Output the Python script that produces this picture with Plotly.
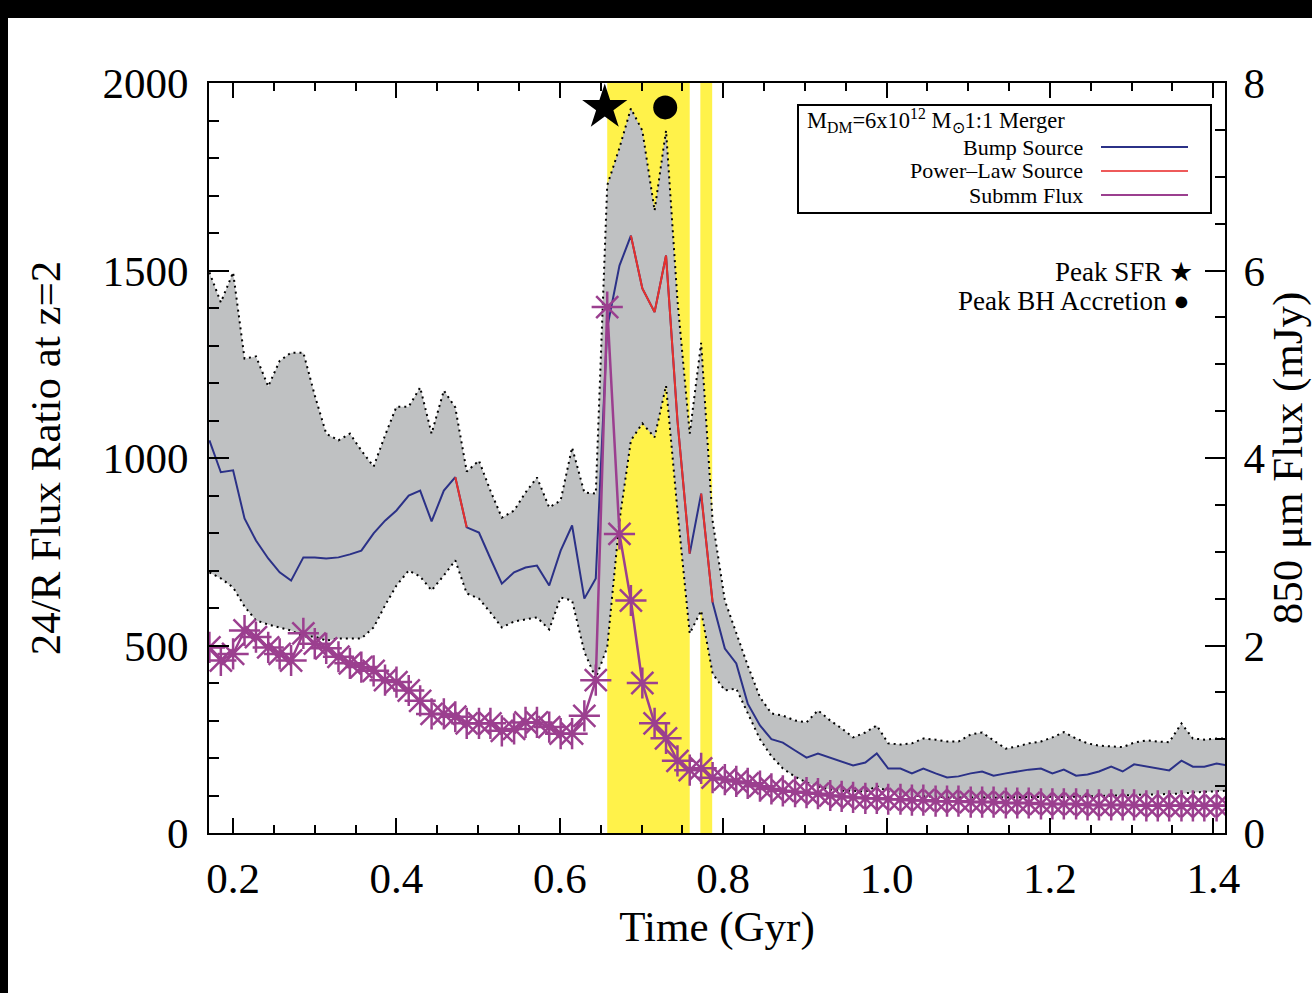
import plotly.graph_objects as go

# ---------------- data ----------------
time_gyr = [
    0.171, 0.185, 0.200, 0.214, 0.228, 0.243, 0.257, 0.271, 0.286, 0.300,
    0.314, 0.329, 0.343, 0.357, 0.372, 0.386, 0.400, 0.415, 0.429, 0.443,
    0.458, 0.472, 0.486, 0.501, 0.515, 0.529, 0.544, 0.558, 0.572, 0.587,
    0.601, 0.615, 0.630, 0.644, 0.658, 0.673, 0.687, 0.701, 0.716, 0.730,
    0.744, 0.759, 0.773, 0.787, 0.802, 0.816, 0.830, 0.845, 0.859, 0.873,
    0.888, 0.902, 0.916, 0.931, 0.945, 0.959, 0.974, 0.988, 1.002, 1.017,
    1.031, 1.045, 1.060, 1.074, 1.088, 1.103, 1.117, 1.131, 1.146, 1.160,
    1.174, 1.189, 1.203, 1.217, 1.232, 1.246, 1.260, 1.275, 1.289, 1.303,
    1.318, 1.332, 1.346, 1.361, 1.375, 1.389, 1.404, 1.418,
]

bump_ratio = [
    1047, 962, 967, 839, 780, 732, 695, 673, 735, 735,
    732, 735, 743, 753, 799, 833, 860, 900, 913, 831,
    913, 949, 815, 801, 732, 665, 695, 708, 713, 660,
    753, 820, 625, 679, 1348, 1513, 1593, 1452, 1389, 1540,
    1100, 745, 905, 615, 492, 452, 345, 287, 250, 241,
    220, 201, 212, 201, 191, 180, 188, 212, 172, 172,
    159, 172, 159, 148, 151, 159, 164, 153, 159, 164,
    169, 172, 159, 169, 153, 156, 164, 177, 164, 183,
    177, 172, 167, 193, 177, 177, 185, 180,
]

band_upper = [
    1495, 1415, 1495, 1265, 1271, 1191, 1259, 1281, 1281, 1167,
    1065, 1047, 1065, 1020, 977, 1060, 1137, 1137, 1188, 1065,
    1180, 1135, 964, 993, 913, 841, 860, 908, 948, 868,
    887, 1028, 908, 905, 1727, 1827, 1932, 1873, 1660, 1873,
    1420, 1065, 1307, 833, 620, 535, 447, 362, 319, 313,
    300, 295, 327, 300, 279, 255, 268, 287, 239, 236,
    239, 252, 249, 244, 244, 263, 268, 247, 225, 231,
    239, 244, 255, 269, 252, 239, 233, 231, 229, 241,
    247, 244, 242, 292, 252, 249, 252, 252,
]

band_lower = [
    695, 679, 655, 604, 567, 556, 548, 540, 524, 524,
    513, 519, 519, 519, 548, 607, 660, 700, 684, 647,
    687, 727, 639, 625, 588, 548, 564, 569, 575, 543,
    628, 620, 483, 413, 495, 833, 1047, 1092, 1055, 1193,
    860, 532, 593, 425, 380, 385, 320, 250, 205, 172,
    150, 135, 124, 116, 113, 113, 110, 125, 110, 103,
    100, 98, 96, 95, 95, 96, 95, 94, 95, 96,
    95, 96, 97, 96, 97, 98, 97, 99, 100, 101,
    102, 103, 104, 105, 108, 110, 112, 113,
]

submm_mjy = [
    1.98, 1.84, 1.91, 2.16, 2.09, 1.98, 1.91, 1.84, 2.13, 2.02,
    1.97, 1.88, 1.81, 1.77, 1.73, 1.63, 1.61, 1.52, 1.41, 1.27,
    1.27, 1.24, 1.17, 1.17, 1.17, 1.09, 1.11, 1.18, 1.18, 1.13,
    1.06, 1.06, 1.25, 1.63, 5.61, 3.19, 2.48, 1.60, 1.17, 1.01,
    0.77, 0.67, 0.69, 0.59, 0.57, 0.55, 0.53, 0.50, 0.47, 0.45,
    0.44, 0.43, 0.42, 0.40, 0.39, 0.38, 0.37, 0.37, 0.36, 0.36,
    0.35, 0.35, 0.34, 0.34, 0.34, 0.33, 0.33, 0.33, 0.32, 0.32,
    0.32, 0.31, 0.31, 0.31, 0.31, 0.30, 0.30, 0.30, 0.30, 0.30,
    0.29, 0.29, 0.29, 0.29, 0.29, 0.29, 0.29, 0.29,
]

# index ranges (inclusive) where the 24/R ratio is power-law dominated
power_law_segments = [(21, 22), (36, 41), (42, 43)]

# highlighted intervals (Gyr)
highlight_windows = [(0.658, 0.759), (0.772, 0.7865)]

peak_sfr_time = 0.655
peak_bh_time = 0.729
peak_marker_level = 1935

x_range = [0.1705, 1.4143]
y_range = [0, 2000]
y2_range = [0, 8]

# ---------------- styles ----------------
FONT = "Liberation Serif, Times New Roman, Times, serif"
BLUE = "#2b3187"
RED = "#e8302a"
PURPLE = "#9b3f8f"
GRAY = "#bfc1c2"
YELLOW = "#fff24a"

L, R, T, B = 209, 87, 83, 160
W, H = 1312, 993
PW, PH = W - L - R, H - T - B


def px(xp):
    return (xp - L) / PW


def py(yp):
    return (H - B - yp) / PH


fig = go.Figure()

dotted = dict(color="black", width=2, dash="2px,4px")
fig.add_trace(go.Scatter(x=time_gyr, y=band_lower, mode="lines", line=dotted,
                         hoverinfo="skip"))
fig.add_trace(go.Scatter(x=time_gyr, y=band_upper, mode="lines", line=dotted,
                         fill="tonexty", fillcolor=GRAY, hoverinfo="skip"))

fig.add_trace(go.Scatter(x=time_gyr, y=bump_ratio, mode="lines",
                         line=dict(color=BLUE, width=2)))

rx, ry = [], []
for a, b in power_law_segments:
    rx += time_gyr[a:b + 1] + [None]
    ry += bump_ratio[a:b + 1] + [None]
fig.add_trace(go.Scatter(x=rx, y=ry, mode="lines", connectgaps=False,
                         line=dict(color=RED, width=2)))

fig.add_trace(go.Scatter(x=time_gyr, y=submm_mjy, yaxis="y2", mode="lines+markers",
                         line=dict(color=PURPLE, width=2.5),
                         marker=dict(symbol="asterisk-open", size=26,
                                     line=dict(color=PURPLE, width=2.5))))

fig.add_trace(go.Scatter(x=[peak_sfr_time], y=[peak_marker_level], mode="markers",
                         marker=dict(symbol="star", size=34, color="black")))
fig.add_trace(go.Scatter(x=[peak_bh_time], y=[peak_marker_level], mode="markers",
                         marker=dict(symbol="circle", size=24, color="black")))

shapes = []
for x0, x1 in highlight_windows:
    shapes.append(dict(type="rect", xref="x", yref="paper", x0=x0, x1=x1, y0=0, y1=1,
                       fillcolor=YELLOW, line=dict(width=0), layer="below"))

# legend box (drawn by hand, IDL style)
shapes.append(dict(type="rect", xref="paper", yref="paper",
                   x0=px(798), x1=px(1211), y0=py(213), y1=py(105),
                   line=dict(color="black", width=2), fillcolor="rgba(0,0,0,0)",
                   layer="above"))
legend_items = [("Bump Source", BLUE, 147), ("Power\u2013Law Source", "#ee5a5a", 171),
                ("Submm Flux", PURPLE, 195)]
annotations = []
for label, col, yy in legend_items:
    shapes.append(dict(type="line", xref="paper", yref="paper",
                       x0=px(1101), x1=px(1188), y0=py(yy), y1=py(yy),
                       line=dict(color=col, width=2)))
    annotations.append(dict(text=label, xref="paper", yref="paper", x=px(1085), y=py(yy),
                            xanchor="right", yanchor="middle", showarrow=False,
                            font=dict(size=22, family=FONT, color="black")))
annotations.append(dict(text="M<sub>DM</sub>=6x10<sup>12</sup> M<sub>\u2299</sub>1:1 Merger",
                        xref="paper", yref="paper", x=px(805), y=py(121),
                        xanchor="left", yanchor="middle", showarrow=False,
                        font=dict(size=22.5, family=FONT, color="black")))
annotations.append(dict(text="Peak SFR \u2605", xref="paper", yref="paper",
                        x=px(1195), y=py(272), xanchor="right", yanchor="middle",
                        showarrow=False, font=dict(size=27, family=FONT, color="black")))
annotations.append(dict(text="Peak BH Accretion \u25cf", xref="paper", yref="paper",
                        x=px(1192), y=py(301), xanchor="right", yanchor="middle",
                        showarrow=False, font=dict(size=27, family=FONT, color="black")))

# black frame edges seen in the reference image
shapes.append(dict(type="rect", xref="paper", yref="paper",
                   x0=px(-5), x1=px(W + 5), y0=py(18), y1=py(-5),
                   fillcolor="black", line=dict(width=0), layer="above"))
shapes.append(dict(type="rect", xref="paper", yref="paper",
                   x0=px(-5), x1=px(8), y0=py(H + 5), y1=py(-5),
                   fillcolor="black", line=dict(width=0), layer="above"))

axis_common = dict(showline=True, linewidth=2, linecolor="black", ticks="inside",
                   tickwidth=2, tickcolor="black", showgrid=False, zeroline=False)

fig.update_layout(
    width=W, height=H,
    margin=dict(l=L, r=R, t=T, b=B, pad=0),
    paper_bgcolor="white", plot_bgcolor="white",
    showlegend=False,
    font=dict(family=FONT, color="black"),
    xaxis=dict(range=x_range, tick0=0.2, dtick=0.2, tickformat=".1f", ticklen=15,
               mirror="ticks", tickfont=dict(size=43), ticklabelstandoff=6,
               minor=dict(dtick=0.05, ticks="inside", ticklen=8, tickwidth=2,
                          tickcolor="black", showgrid=False),
               title=dict(text="Time (Gyr)", font=dict(size=43), standoff=10),
               **axis_common),
    yaxis=dict(range=y_range, dtick=500, ticklen=20, tickfont=dict(size=43),
               ticklabelstandoff=10,
               minor=dict(dtick=100, ticks="inside", ticklen=10, tickwidth=2,
                          tickcolor="black", showgrid=False),
               title=dict(text="24/R Flux Ratio at z=2", font=dict(size=43), standoff=28),
               **axis_common),
    yaxis2=dict(range=y2_range, overlaying="y", side="right", dtick=2, ticklen=20,
                tickfont=dict(size=43), ticklabelstandoff=8,
                minor=dict(dtick=0.5, ticks="inside", ticklen=10, tickwidth=2,
                           tickcolor="black", showgrid=False),
                title=dict(text="850 \u03bcm Flux (mJy)", font=dict(size=43), standoff=6),
                **axis_common),
    shapes=shapes,
    annotations=annotations,
)

fig.write_html("out.html")
